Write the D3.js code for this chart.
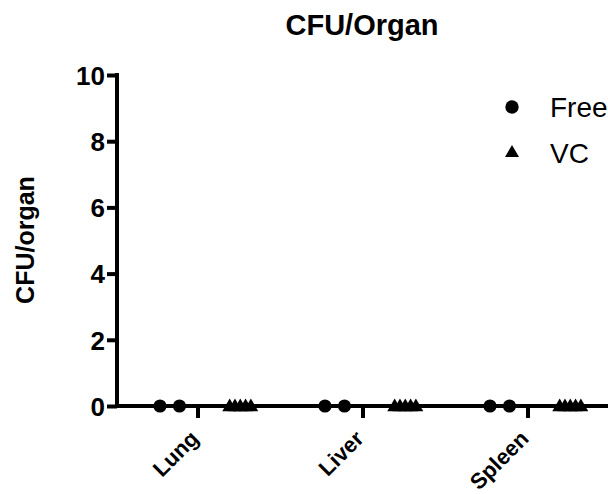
<!DOCTYPE html>
<html><head><meta charset="utf-8">
<script src="https://cdn.jsdelivr.net/npm/d3@7"></script>
<style>body{margin:0;background:#fff;overflow:hidden}svg{display:block}</style>
</head><body>
<script>
const categories = ["Lung", "Liver", "Spleen"];
const seriesNames = ["Free", "VC"];
const freeValues = [[0, 0], [0, 0], [0, 0]];
const vcValues = [[0, 0, 0, 0, 0], [0, 0, 0, 0, 0], [0, 0, 0, 0, 0]];
const yTicks = [0, 2, 4, 6, 8, 10];

const W = 608, H = 494;
const svg = d3.select("body").append("svg").attr("width", W).attr("height", H);
const font = "'Liberation Sans', Arial, sans-serif";

const x = d3.scaleBand().domain(categories).range([115.5, 610.5]).padding(0);
const y = d3.scaleLinear().domain([0, 10]).range([406, 75]);
// sub-columns per series inside each category
const sub = d3.scaleBand().domain(seriesNames).range([-60, 74]).paddingInner(0.1);

// title
svg.append("text").attr("x", 362).attr("y", 35).attr("text-anchor", "middle")
  .attr("font-family", font).attr("font-weight", "bold").attr("font-size", 29)
  .text("CFU/Organ");

// y label
svg.append("text").attr("transform", "translate(34,240) rotate(-90)")
  .attr("text-anchor", "middle").attr("font-family", font).attr("font-weight", "bold")
  .attr("font-size", 25).text("CFU/organ");

// y axis
const yAxis = svg.append("g").attr("transform", "translate(117,0)")
  .call(d3.axisLeft(y).tickValues(yTicks).tickSize(10).tickPadding(2).tickFormat(d3.format("d")));
yAxis.select(".domain").attr("stroke-width", 4).attr("d", `M0,${y(10) - 2}V${y(0)}`);
yAxis.selectAll(".tick line").attr("stroke-width", 4);
yAxis.selectAll(".tick text").attr("font-family", font).attr("font-weight", "bold").attr("font-size", 26)
  .attr("fill", "#000").attr("dy", "0.36em");

// x axis
const xAxis = svg.append("g").attr("transform", `translate(0,${y(0)})`)
  .call(d3.axisBottom(x).tickSize(12).tickPadding(4));
xAxis.select(".domain").attr("stroke-width", 4).attr("d", `M115,0H${W}`);
xAxis.selectAll(".tick line").attr("stroke-width", 4);
xAxis.selectAll(".tick text").attr("font-family", font).attr("font-weight", "bold").attr("font-size", 22)
  .attr("fill", "#000").attr("text-anchor", "end")
  .attr("x", 0).attr("y", 0).attr("dx", 0).attr("dy", 0)
  .attr("transform", "translate(2,34) rotate(-45)");

// points
const circle = d3.symbol().type(d3.symbolCircle).size(135);
const tri = d3.symbol().type(d3.symbolTriangle).size(95);
const gp = svg.append("g");
categories.forEach((c, i) => {
  const cx = x(c) + x.bandwidth() / 2;
  const f = freeValues[i];
  f.forEach((v, j) => {
    const off = sub("Free") + sub.bandwidth() / 2 + (j - (f.length - 1) / 2) * 19.5;
    gp.append("path").attr("d", circle).attr("transform", `translate(${cx + off},${y(v)})`).attr("fill", "#000");
  });
  const t = vcValues[i];
  t.forEach((v, j) => {
    const off = sub("VC") + sub.bandwidth() / 2 + (j - (t.length - 1) / 2) * 5.3;
    gp.append("path").attr("d", tri).attr("transform", `translate(${cx + off},${y(v) + 1})`).attr("fill", "#000");
  });
});

// legend
const leg = svg.append("g");
const legY = [107, 153];
leg.append("path").attr("d", d3.symbol().type(d3.symbolCircle).size(140)).attr("transform", `translate(512,${legY[0]})`).attr("fill", "#000");
leg.append("path").attr("d", d3.symbol().type(d3.symbolTriangle).size(85)).attr("transform", `translate(512,${legY[1]})`).attr("fill", "#000");
seriesNames.forEach((s, i) => {
  leg.append("text").attr("x", 550).attr("y", legY[i]).attr("dy", "0.36em")
    .attr("font-family", font).attr("font-size", 28).text(s);
});
</script>
</body></html>
